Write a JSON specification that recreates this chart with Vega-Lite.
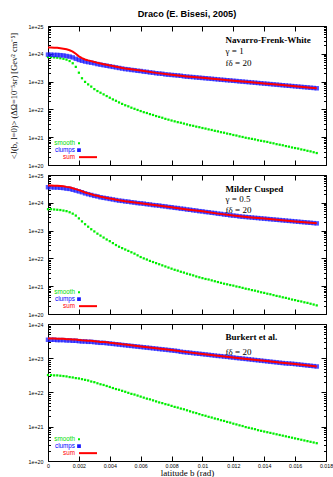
{
"$schema": "https://vega.github.io/schema/vega-lite/v6.json",
"background": "white",
"padding": {"left": 8, "top": 9, "right": 0, "bottom": 0},
"config": {
  "font": "Liberation Sans",
  "view": {"stroke": "black", "strokeWidth": 1},
  "axis": {"domain": false, "grid": false, "tickColor": "black", "tickWidth": 1, "labelColor": "black", "labelFont": "Liberation Sans", "labelFontSize": 5.3, "titleFont": "Liberation Serif", "titleFontWeight": "normal", "titleFontSize": 9, "titleColor": "black", "labelFlush": false, "labelOverlap": false}
},
"bounds": "flush",
"spacing": 10,
"resolve": {"scale": {"x": "independent", "y": "independent", "color": "independent"}, "legend": {"color": "independent"}},
"datasets": {
"nfw": [
{"b":0,"smooth":7.59e23,"clumps":9.33e23,"sum":1.69e24},
{"b":0.0002,"smooth":7.59e23,"clumps":9.33e23,"sum":1.69e24},
{"b":0.0004,"smooth":7.41e23,"clumps":9.12e23,"sum":1.65e24},
{"b":0.0006,"smooth":7.24e23,"clumps":9.12e23,"sum":1.64e24},
{"b":0.0008,"smooth":6.92e23,"clumps":8.91e23,"sum":1.58e24},
{"b":0.001,"smooth":6.61e23,"clumps":8.71e23,"sum":1.53e24},
{"b":0.0012,"smooth":6.17e23,"clumps":8.32e23,"sum":1.45e24},
{"b":0.0014,"smooth":5.50e23,"clumps":7.94e23,"sum":1.34e24},
{"b":0.0016,"smooth":4.57e23,"clumps":7.41e23,"sum":1.20e24},
{"b":0.0018,"smooth":3.39e23,"clumps":6.61e23,"sum":1.00e24},
{"b":0.002,"smooth":2.09e23,"clumps":6.03e23,"sum":8.12e23},
{"b":0.0022,"smooth":1.32e23,"clumps":5.62e23,"sum":6.94e23},
{"b":0.0024,"smooth":9.77e22,"clumps":5.25e23,"sum":6.23e23},
{"b":0.0026,"smooth":7.94e22,"clumps":5.01e23,"sum":5.80e23},
{"b":0.0028,"smooth":6.61e22,"clumps":4.79e23,"sum":5.45e23},
{"b":0.003,"smooth":5.37e22,"clumps":4.57e23,"sum":5.11e23},
{"b":0.0032,"smooth":4.57e22,"clumps":4.27e23,"sum":4.73e23},
{"b":0.0034,"smooth":3.98e22,"clumps":4.07e23,"sum":4.47e23},
{"b":0.0036,"smooth":3.47e22,"clumps":3.89e23,"sum":4.24e23},
{"b":0.0038,"smooth":3.02e22,"clumps":3.72e23,"sum":4.02e23},
{"b":0.004,"smooth":2.63e22,"clumps":3.55e23,"sum":3.81e23},
{"b":0.0042,"smooth":2.29e22,"clumps":3.39e23,"sum":3.62e23},
{"b":0.0044,"smooth":2.04e22,"clumps":3.24e23,"sum":3.44e23},
{"b":0.0046,"smooth":1.78e22,"clumps":3.09e23,"sum":3.27e23},
{"b":0.0048,"smooth":1.58e22,"clumps":2.95e23,"sum":3.11e23},
{"b":0.005,"smooth":1.41e22,"clumps":2.82e23,"sum":2.96e23},
{"b":0.0052,"smooth":1.29e22,"clumps":2.75e23},
{"b":0.0054,"smooth":1.15e22,"clumps":2.63e23},
{"b":0.0056,"smooth":1.05e22,"clumps":2.57e23},
{"b":0.0058,"smooth":9.55e21,"clumps":2.45e23},
{"b":0.006,"smooth":8.71e21,"clumps":2.40e23,"sum":2.49e23},
{"b":0.0062,"smooth":7.94e21,"clumps":2.29e23},
{"b":0.0064,"smooth":7.41e21,"clumps":2.24e23},
{"b":0.0066,"smooth":6.76e21,"clumps":2.14e23},
{"b":0.0068,"smooth":6.31e21,"clumps":2.09e23},
{"b":0.007,"smooth":5.75e21,"clumps":2.00e23,"sum":2.06e23},
{"b":0.0072,"smooth":5.37e21,"clumps":1.95e23},
{"b":0.0074,"smooth":5.01e21,"clumps":1.91e23},
{"b":0.0076,"smooth":4.57e21,"clumps":1.82e23},
{"b":0.0078,"smooth":4.27e21,"clumps":1.78e23},
{"b":0.008,"smooth":3.98e21,"clumps":1.74e23,"sum":1.78e23},
{"b":0.0082,"smooth":3.72e21,"clumps":1.70e23},
{"b":0.0084,"smooth":3.47e21,"clumps":1.66e23},
{"b":0.0086,"smooth":3.31e21,"clumps":1.62e23},
{"b":0.0088,"smooth":3.09e21,"clumps":1.55e23},
{"b":0.009,"smooth":2.88e21,"clumps":1.51e23,"sum":1.54e23},
{"b":0.0092,"smooth":2.69e21,"clumps":1.48e23},
{"b":0.0094,"smooth":2.57e21,"clumps":1.45e23},
{"b":0.0096,"smooth":2.40e21,"clumps":1.41e23},
{"b":0.0098,"smooth":2.29e21,"clumps":1.38e23},
{"b":0.01,"smooth":2.14e21,"clumps":1.35e23,"sum":1.37e23},
{"b":0.0102,"smooth":2.04e21,"clumps":1.32e23},
{"b":0.0104,"smooth":1.91e21,"clumps":1.29e23},
{"b":0.0106,"smooth":1.82e21,"clumps":1.26e23},
{"b":0.0108,"smooth":1.70e21,"clumps":1.23e23},
{"b":0.011,"smooth":1.62e21,"clumps":1.20e23,"sum":1.22e23},
{"b":0.0112,"smooth":1.51e21,"clumps":1.17e23},
{"b":0.0114,"smooth":1.45e21,"clumps":1.15e23},
{"b":0.0116,"smooth":1.35e21,"clumps":1.12e23},
{"b":0.0118,"smooth":1.29e21,"clumps":1.10e23},
{"b":0.012,"smooth":1.20e21,"clumps":1.07e23,"sum":1.08e23},
{"b":0.0122,"smooth":1.15e21,"clumps":1.05e23},
{"b":0.0124,"smooth":1.07e21,"clumps":1.02e23},
{"b":0.0126,"smooth":1.02e21,"clumps":1.00e23},
{"b":0.0128,"smooth":9.55e20,"clumps":9.77e22},
{"b":0.013,"smooth":9.12e20,"clumps":9.55e22,"sum":9.64e22},
{"b":0.0132,"smooth":8.71e20,"clumps":9.33e22},
{"b":0.0134,"smooth":8.32e20,"clumps":9.12e22},
{"b":0.0136,"smooth":7.76e20,"clumps":8.91e22},
{"b":0.0138,"smooth":7.41e20,"clumps":8.71e22},
{"b":0.014,"smooth":7.08e20,"clumps":8.51e22,"sum":8.58e22},
{"b":0.0142,"smooth":6.76e20,"clumps":8.32e22},
{"b":0.0144,"smooth":6.31e20,"clumps":8.13e22},
{"b":0.0146,"smooth":6.03e20,"clumps":7.94e22},
{"b":0.0148,"smooth":5.62e20,"clumps":7.76e22},
{"b":0.015,"smooth":5.37e20,"clumps":7.59e22,"sum":7.64e22},
{"b":0.0152,"smooth":5.13e20,"clumps":7.41e22},
{"b":0.0154,"smooth":4.79e20,"clumps":7.24e22},
{"b":0.0156,"smooth":4.57e20,"clumps":7.08e22},
{"b":0.0158,"smooth":4.27e20,"clumps":6.92e22},
{"b":0.016,"smooth":4.07e20,"clumps":6.76e22,"sum":6.80e22},
{"b":0.0162,"smooth":3.89e20,"clumps":6.61e22},
{"b":0.0164,"smooth":3.63e20,"clumps":6.46e22},
{"b":0.0166,"smooth":3.47e20,"clumps":6.31e22},
{"b":0.0168,"smooth":3.24e20,"clumps":6.17e22},
{"b":0.017,"smooth":3.09e20,"clumps":6.03e22,"sum":6.06e22},
{"b":0.0172,"smooth":2.88e20,"clumps":5.89e22},
{"b":0.0174,"smooth":2.69e20,"clumps":5.75e22,"sum":5.78e22}
],
"mc": [
{"b":0,"smooth":5.89e23,"clumps":3.63e24,"sum":4.22e24},
{"b":0.0002,"smooth":5.89e23,"clumps":3.63e24,"sum":4.22e24},
{"b":0.0004,"smooth":5.75e23,"clumps":3.55e24,"sum":4.13e24},
{"b":0.0006,"smooth":5.62e23,"clumps":3.55e24,"sum":4.11e24},
{"b":0.0008,"smooth":5.50e23,"clumps":3.47e24,"sum":4.02e24},
{"b":0.001,"smooth":5.25e23,"clumps":3.39e24,"sum":3.92e24},
{"b":0.0012,"smooth":5.01e23,"clumps":3.24e24,"sum":3.74e24},
{"b":0.0014,"smooth":4.57e23,"clumps":3.16e24,"sum":3.62e24},
{"b":0.0016,"smooth":4.07e23,"clumps":2.95e24,"sum":3.36e24},
{"b":0.0018,"smooth":3.47e23,"clumps":2.75e24,"sum":3.10e24},
{"b":0.002,"smooth":2.75e23,"clumps":2.57e24,"sum":2.85e24},
{"b":0.0022,"smooth":2.14e23,"clumps":2.40e24,"sum":2.61e24},
{"b":0.0024,"smooth":1.70e23,"clumps":2.19e24,"sum":2.36e24},
{"b":0.0026,"smooth":1.38e23,"clumps":2.04e24,"sum":2.18e24},
{"b":0.0028,"smooth":1.12e23,"clumps":1.91e24,"sum":2.02e24},
{"b":0.003,"smooth":9.33e22,"clumps":1.78e24,"sum":1.87e24},
{"b":0.0032,"smooth":7.76e22,"clumps":1.70e24,"sum":1.78e24},
{"b":0.0034,"smooth":6.61e22,"clumps":1.58e24,"sum":1.65e24},
{"b":0.0036,"smooth":5.62e22,"clumps":1.51e24,"sum":1.57e24},
{"b":0.0038,"smooth":4.79e22,"clumps":1.45e24,"sum":1.50e24},
{"b":0.004,"smooth":4.17e22,"clumps":1.38e24,"sum":1.42e24},
{"b":0.0042,"smooth":3.55e22,"clumps":1.32e24,"sum":1.36e24},
{"b":0.0044,"smooth":3.02e22,"clumps":1.26e24,"sum":1.29e24},
{"b":0.0046,"smooth":2.63e22,"clumps":1.20e24,"sum":1.23e24},
{"b":0.0048,"smooth":2.34e22,"clumps":1.17e24,"sum":1.19e24},
{"b":0.005,"smooth":2.09e22,"clumps":1.12e24,"sum":1.14e24},
{"b":0.0052,"smooth":1.86e22,"clumps":1.10e24},
{"b":0.0054,"smooth":1.66e22,"clumps":1.05e24},
{"b":0.0056,"smooth":1.48e22,"clumps":1.02e24},
{"b":0.0058,"smooth":1.29e22,"clumps":9.77e23},
{"b":0.006,"smooth":1.12e22,"clumps":9.55e23,"sum":9.66e23},
{"b":0.0062,"smooth":1.00e22,"clumps":9.33e23},
{"b":0.0064,"smooth":9.12e21,"clumps":8.91e23},
{"b":0.0066,"smooth":8.13e21,"clumps":8.71e23},
{"b":0.0068,"smooth":7.41e21,"clumps":8.32e23},
{"b":0.007,"smooth":6.76e21,"clumps":8.13e23,"sum":8.20e23},
{"b":0.0072,"smooth":6.17e21,"clumps":7.94e23},
{"b":0.0074,"smooth":5.62e21,"clumps":7.59e23},
{"b":0.0076,"smooth":5.13e21,"clumps":7.41e23},
{"b":0.0078,"smooth":4.68e21,"clumps":7.08e23},
{"b":0.008,"smooth":4.27e21,"clumps":6.92e23,"sum":6.96e23},
{"b":0.0082,"smooth":3.89e21,"clumps":6.61e23},
{"b":0.0084,"smooth":3.63e21,"clumps":6.46e23},
{"b":0.0086,"smooth":3.31e21,"clumps":6.17e23},
{"b":0.0088,"smooth":3.09e21,"clumps":6.03e23},
{"b":0.009,"smooth":2.82e21,"clumps":5.75e23,"sum":5.78e23},
{"b":0.0092,"smooth":2.63e21,"clumps":5.62e23},
{"b":0.0094,"smooth":2.45e21,"clumps":5.37e23},
{"b":0.0096,"smooth":2.24e21,"clumps":5.25e23},
{"b":0.0098,"smooth":2.09e21,"clumps":5.01e23},
{"b":0.01,"smooth":1.95e21,"clumps":4.90e23,"sum":4.92e23},
{"b":0.0102,"smooth":1.82e21,"clumps":4.68e23},
{"b":0.0104,"smooth":1.74e21,"clumps":4.57e23},
{"b":0.0106,"smooth":1.62e21,"clumps":4.37e23},
{"b":0.0108,"smooth":1.51e21,"clumps":4.27e23},
{"b":0.011,"smooth":1.41e21,"clumps":4.07e23,"sum":4.08e23},
{"b":0.0112,"smooth":1.32e21,"clumps":3.98e23},
{"b":0.0114,"smooth":1.23e21,"clumps":3.80e23},
{"b":0.0116,"smooth":1.17e21,"clumps":3.72e23},
{"b":0.0118,"smooth":1.10e21,"clumps":3.55e23},
{"b":0.012,"smooth":1.05e21,"clumps":3.47e23,"sum":3.48e23},
{"b":0.0122,"smooth":9.77e20,"clumps":3.39e23},
{"b":0.0124,"smooth":9.33e20,"clumps":3.24e23},
{"b":0.0126,"smooth":8.71e20,"clumps":3.16e23},
{"b":0.0128,"smooth":8.13e20,"clumps":3.09e23},
{"b":0.013,"smooth":7.76e20,"clumps":3.02e23,"sum":3.03e23},
{"b":0.0132,"smooth":7.24e20,"clumps":2.95e23},
{"b":0.0134,"smooth":6.92e20,"clumps":2.88e23},
{"b":0.0136,"smooth":6.46e20,"clumps":2.82e23},
{"b":0.0138,"smooth":6.03e20,"clumps":2.75e23},
{"b":0.014,"smooth":5.75e20,"clumps":2.69e23,"sum":2.70e23},
{"b":0.0142,"smooth":5.37e20,"clumps":2.63e23},
{"b":0.0144,"smooth":5.13e20,"clumps":2.57e23},
{"b":0.0146,"smooth":4.79e20,"clumps":2.51e23},
{"b":0.0148,"smooth":4.47e20,"clumps":2.45e23},
{"b":0.015,"smooth":4.27e20,"clumps":2.40e23,"sum":2.40e23},
{"b":0.0152,"smooth":3.98e20,"clumps":2.34e23},
{"b":0.0154,"smooth":3.80e20,"clumps":2.29e23},
{"b":0.0156,"smooth":3.55e20,"clumps":2.24e23},
{"b":0.0158,"smooth":3.31e20,"clumps":2.19e23},
{"b":0.016,"smooth":3.16e20,"clumps":2.14e23,"sum":2.14e23},
{"b":0.0162,"smooth":2.95e20,"clumps":2.09e23},
{"b":0.0164,"smooth":2.82e20,"clumps":2.04e23},
{"b":0.0166,"smooth":2.63e20,"clumps":2.00e23},
{"b":0.0168,"smooth":2.51e20,"clumps":1.95e23},
{"b":0.017,"smooth":2.34e20,"clumps":1.91e23,"sum":1.91e23},
{"b":0.0172,"smooth":2.19e20,"clumps":1.86e23},
{"b":0.0174,"smooth":2.04e20,"clumps":1.82e23,"sum":1.82e23}
],
"bk": [
{"b":0,"smooth":3.24e22,"clumps":3.47e23,"sum":3.79e23},
{"b":0.0002,"smooth":3.24e22,"clumps":3.47e23,"sum":3.79e23},
{"b":0.0004,"smooth":3.16e22,"clumps":3.47e23,"sum":3.79e23},
{"b":0.0006,"smooth":3.16e22,"clumps":3.39e23,"sum":3.71e23},
{"b":0.0008,"smooth":3.09e22,"clumps":3.39e23,"sum":3.70e23},
{"b":0.001,"smooth":3.02e22,"clumps":3.39e23,"sum":3.69e23},
{"b":0.0012,"smooth":2.95e22,"clumps":3.31e23,"sum":3.61e23},
{"b":0.0014,"smooth":2.82e22,"clumps":3.31e23,"sum":3.59e23},
{"b":0.0016,"smooth":2.75e22,"clumps":3.24e23,"sum":3.52e23},
{"b":0.0018,"smooth":2.63e22,"clumps":3.24e23,"sum":3.50e23},
{"b":0.002,"smooth":2.57e22,"clumps":3.16e23,"sum":3.42e23},
{"b":0.0022,"smooth":2.45e22,"clumps":3.09e23,"sum":3.34e23},
{"b":0.0024,"smooth":2.34e22,"clumps":3.09e23,"sum":3.32e23},
{"b":0.0026,"smooth":2.24e22,"clumps":3.02e23,"sum":3.24e23},
{"b":0.0028,"smooth":2.09e22,"clumps":3.02e23,"sum":3.23e23},
{"b":0.003,"smooth":2.00e22,"clumps":2.95e23,"sum":3.15e23},
{"b":0.0032,"smooth":1.86e22,"clumps":2.88e23,"sum":3.07e23},
{"b":0.0034,"smooth":1.74e22,"clumps":2.82e23,"sum":2.99e23},
{"b":0.0036,"smooth":1.66e22,"clumps":2.82e23,"sum":2.99e23},
{"b":0.0038,"smooth":1.55e22,"clumps":2.75e23,"sum":2.91e23},
{"b":0.004,"smooth":1.45e22,"clumps":2.69e23,"sum":2.83e23},
{"b":0.0042,"smooth":1.35e22,"clumps":2.63e23,"sum":2.77e23},
{"b":0.0044,"smooth":1.26e22,"clumps":2.57e23,"sum":2.70e23},
{"b":0.0046,"smooth":1.20e22,"clumps":2.51e23,"sum":2.63e23},
{"b":0.0048,"smooth":1.12e22,"clumps":2.45e23,"sum":2.56e23},
{"b":0.005,"smooth":1.05e22,"clumps":2.40e23,"sum":2.51e23},
{"b":0.0052,"smooth":9.77e21,"clumps":2.34e23},
{"b":0.0054,"smooth":9.12e21,"clumps":2.29e23},
{"b":0.0056,"smooth":8.71e21,"clumps":2.24e23},
{"b":0.0058,"smooth":8.13e21,"clumps":2.19e23},
{"b":0.006,"smooth":7.59e21,"clumps":2.14e23,"sum":2.22e23},
{"b":0.0062,"smooth":7.08e21,"clumps":2.09e23},
{"b":0.0064,"smooth":6.61e21,"clumps":2.04e23},
{"b":0.0066,"smooth":6.31e21,"clumps":2.00e23},
{"b":0.0068,"smooth":5.89e21,"clumps":1.95e23},
{"b":0.007,"smooth":5.50e21,"clumps":1.91e23,"sum":1.97e23},
{"b":0.0072,"smooth":5.13e21,"clumps":1.86e23},
{"b":0.0074,"smooth":4.90e21,"clumps":1.82e23},
{"b":0.0076,"smooth":4.57e21,"clumps":1.78e23},
{"b":0.0078,"smooth":4.37e21,"clumps":1.74e23},
{"b":0.008,"smooth":4.07e21,"clumps":1.70e23,"sum":1.74e23},
{"b":0.0082,"smooth":3.80e21,"clumps":1.66e23},
{"b":0.0084,"smooth":3.63e21,"clumps":1.62e23},
{"b":0.0086,"smooth":3.39e21,"clumps":1.55e23},
{"b":0.0088,"smooth":3.24e21,"clumps":1.51e23},
{"b":0.009,"smooth":3.02e21,"clumps":1.48e23,"sum":1.51e23},
{"b":0.0092,"smooth":2.82e21,"clumps":1.45e23},
{"b":0.0094,"smooth":2.63e21,"clumps":1.41e23},
{"b":0.0096,"smooth":2.51e21,"clumps":1.38e23},
{"b":0.0098,"smooth":2.34e21,"clumps":1.35e23},
{"b":0.01,"smooth":2.19e21,"clumps":1.32e23,"sum":1.34e23},
{"b":0.0102,"smooth":2.09e21,"clumps":1.29e23},
{"b":0.0104,"smooth":1.95e21,"clumps":1.26e23},
{"b":0.0106,"smooth":1.86e21,"clumps":1.23e23},
{"b":0.0108,"smooth":1.74e21,"clumps":1.20e23},
{"b":0.011,"smooth":1.66e21,"clumps":1.17e23,"sum":1.19e23},
{"b":0.0112,"smooth":1.55e21,"clumps":1.15e23},
{"b":0.0114,"smooth":1.48e21,"clumps":1.12e23},
{"b":0.0116,"smooth":1.38e21,"clumps":1.10e23},
{"b":0.0118,"smooth":1.32e21,"clumps":1.07e23},
{"b":0.012,"smooth":1.23e21,"clumps":1.05e23,"sum":1.06e23},
{"b":0.0122,"smooth":1.17e21,"clumps":1.02e23},
{"b":0.0124,"smooth":1.10e21,"clumps":1.00e23},
{"b":0.0126,"smooth":1.05e21,"clumps":9.77e22},
{"b":0.0128,"smooth":9.77e20,"clumps":9.55e22},
{"b":0.013,"smooth":9.33e20,"clumps":9.33e22,"sum":9.42e22},
{"b":0.0132,"smooth":8.91e20,"clumps":9.12e22},
{"b":0.0134,"smooth":8.51e20,"clumps":8.91e22},
{"b":0.0136,"smooth":7.94e20,"clumps":8.71e22},
{"b":0.0138,"smooth":7.59e20,"clumps":8.51e22},
{"b":0.014,"smooth":7.24e20,"clumps":8.32e22,"sum":8.39e22},
{"b":0.0142,"smooth":6.92e20,"clumps":8.13e22},
{"b":0.0144,"smooth":6.61e20,"clumps":7.94e22},
{"b":0.0146,"smooth":6.31e20,"clumps":7.76e22},
{"b":0.0148,"smooth":6.03e20,"clumps":7.59e22},
{"b":0.015,"smooth":5.75e20,"clumps":7.41e22,"sum":7.47e22},
{"b":0.0152,"smooth":5.50e20,"clumps":7.24e22},
{"b":0.0154,"smooth":5.25e20,"clumps":7.08e22},
{"b":0.0156,"smooth":5.01e20,"clumps":7.00e22},
{"b":0.0158,"smooth":4.79e20,"clumps":6.92e22},
{"b":0.016,"smooth":4.57e20,"clumps":6.76e22,"sum":6.81e22},
{"b":0.0162,"smooth":4.37e20,"clumps":6.61e22},
{"b":0.0164,"smooth":4.17e20,"clumps":6.46e22},
{"b":0.0166,"smooth":3.98e20,"clumps":6.31e22},
{"b":0.0168,"smooth":3.80e20,"clumps":6.17e22},
{"b":0.017,"smooth":3.63e20,"clumps":6.03e22,"sum":6.07e22},
{"b":0.0172,"smooth":3.47e20,"clumps":5.89e22},
{"b":0.0174,"smooth":3.31e20,"clumps":5.75e22,"sum":5.78e22}
]
},
"vconcat": [
{
 "width": 278, "height": 139,
 "title": {"text": "Draco (E. Bisesi, 2005)", "font": "Liberation Sans", "fontSize": 9.2, "fontWeight": "bold", "color": "black", "anchor": "middle", "frame": "group", "offset": 5},
 "data": {"name": "nfw"},
 "resolve": {"axis": {"x": "independent", "y": "independent"}},
 "layer": [
  {"mark": {"type": "point", "shape": "square", "filled": true, "size": 5, "opacity": 1},
   "encoding": {
    "x": {"field": "b", "type": "quantitative", "scale": {"domain": [0, 0.018], "nice": false, "zero": false}, "axis": {"orient": "bottom", "values": [0,0.002,0.004,0.006,0.008,0.01,0.012,0.014,0.016,0.018], "tickSize": -5, "labels": false, "title": null}},
    "y": {"field": "smooth", "type": "quantitative", "scale": {"type": "log", "domain": [1e20, 1e25], "nice": false}, "axis": {"orient": "left", "values": [1e20,2e20,3e20,4e20,5e20,6e20,7e20,8e20,9e20,1e21,2e21,3e21,4e21,5e21,6e21,7e21,8e21,9e21,1e22,2e22,3e22,4e22,5e22,6e22,7e22,8e22,9e22,1e23,2e23,3e23,4e23,5e23,6e23,7e23,8e23,9e23,1e24,2e24,3e24,4e24,5e24,6e24,7e24,8e24,9e24,1e25], "labelExpr": "abs(log(datum.value)/LN10-round(log(datum.value)/LN10))<0.01 ? '1e+'+round(log(datum.value)/LN10) : ''", "tickSize": {"condition": {"test": "abs(log(datum.value)/LN10-round(log(datum.value)/LN10))<0.01", "value": -5}, "value": -2.5}, "labelPadding": 10, "title": "<J(b, l=0)> (ΔΩ=10⁻⁵sr) [Gev² cm⁻⁵]", "titleFontSize": 8.5, "titlePadding": 10}},
    "color": {"datum": "smooth", "type": "nominal", "scale": {"domain": ["smooth","clumps","sum"], "range": ["#00ee00","#1a1aff","#ff0000"]},
      "legend": {"orient": "bottom-left", "offset": 3, "title": null, "padding": 0, "rowPadding": -2.4, "labelFont": "Liberation Sans", "labelFontSize": 6.3, "labelAlign": "right", "symbolSize": 16,
        "encode": {
          "labels": {"update": {"x": {"value": 24}, "align": {"value": "right"}, "fill": {"signal": "datum.value==='smooth'?'#00dd00':datum.value==='clumps'?'#0000ff':'#ff0000'"}}},
          "symbols": {"update": {"x": {"signal": "datum.value==='sum'?37:28"}, "shape": {"signal": "datum.value==='sum'?'stroke':'square'"}, "size": {"signal": "datum.value==='sum'?324:datum.value==='clumps'?14:4"}, "fill": {"signal": "datum.value==='smooth'?'#00ee00':datum.value==='clumps'?'#1a1aff':'transparent'"}, "stroke": {"signal": "datum.value==='sum'?'#ff0000':'transparent'"}, "strokeWidth": {"signal": "datum.value==='sum'?2:0"}, "opacity": {"value": 1}}}
        }}}
   }},
  {"mark": {"type": "point", "shape": "square", "filled": true, "size": 20, "opacity": 0.75},
   "encoding": {
    "x": {"field": "b", "type": "quantitative", "scale": {"domain": [0, 0.018], "nice": false, "zero": false}, "axis": {"orient": "top", "values": [0,0.002,0.004,0.006,0.008,0.01,0.012,0.014,0.016,0.018], "tickSize": -5, "labels": false, "title": null}},
    "y": {"field": "clumps", "type": "quantitative", "scale": {"type": "log", "domain": [1e20, 1e25], "nice": false}, "axis": {"orient": "right", "values": [1e20,2e20,3e20,4e20,5e20,6e20,7e20,8e20,9e20,1e21,2e21,3e21,4e21,5e21,6e21,7e21,8e21,9e21,1e22,2e22,3e22,4e22,5e22,6e22,7e22,8e22,9e22,1e23,2e23,3e23,4e23,5e23,6e23,7e23,8e23,9e23,1e24,2e24,3e24,4e24,5e24,6e24,7e24,8e24,9e24,1e25], "labels": false, "tickSize": {"condition": {"test": "abs(log(datum.value)/LN10-round(log(datum.value)/LN10))<0.01", "value": -5}, "value": -2.5}, "title": null}},
    "color": {"datum": "clumps", "type": "nominal", "scale": {"domain": ["smooth","clumps","sum"], "range": ["#00ee00","#1a1aff","#ff0000"]},
      "legend": {"orient": "bottom-left", "offset": 3, "title": null, "padding": 0, "rowPadding": -2.4, "labelFont": "Liberation Sans", "labelFontSize": 6.3, "labelAlign": "right", "symbolSize": 16,
        "encode": {
          "labels": {"update": {"x": {"value": 24}, "align": {"value": "right"}, "fill": {"signal": "datum.value==='smooth'?'#00dd00':datum.value==='clumps'?'#0000ff':'#ff0000'"}}},
          "symbols": {"update": {"x": {"signal": "datum.value==='sum'?37:28"}, "shape": {"signal": "datum.value==='sum'?'stroke':'square'"}, "size": {"signal": "datum.value==='sum'?324:datum.value==='clumps'?14:4"}, "fill": {"signal": "datum.value==='smooth'?'#00ee00':datum.value==='clumps'?'#1a1aff':'transparent'"}, "stroke": {"signal": "datum.value==='sum'?'#ff0000':'transparent'"}, "strokeWidth": {"signal": "datum.value==='sum'?2:0"}, "opacity": {"value": 1}}}
        }}}
   }},
  {"mark": {"type": "line", "strokeWidth": 2, "invalid": "filter"},
   "encoding": {
    "x": {"field": "b", "type": "quantitative", "scale": {"domain": [0, 0.018], "nice": false, "zero": false}, "axis": null},
    "y": {"field": "sum", "type": "quantitative", "scale": {"type": "log", "domain": [1e20, 1e25], "nice": false}, "axis": null},
    "color": {"datum": "sum", "type": "nominal", "scale": {"domain": ["smooth","clumps","sum"], "range": ["#00ee00","#1a1aff","#ff0000"]},
      "legend": {"orient": "bottom-left", "offset": 3, "title": null, "padding": 0, "rowPadding": -2.4, "labelFont": "Liberation Sans", "labelFontSize": 6.3, "labelAlign": "right", "symbolSize": 16,
        "encode": {
          "labels": {"update": {"x": {"value": 24}, "align": {"value": "right"}, "fill": {"signal": "datum.value==='smooth'?'#00dd00':datum.value==='clumps'?'#0000ff':'#ff0000'"}}},
          "symbols": {"update": {"x": {"signal": "datum.value==='sum'?37:28"}, "shape": {"signal": "datum.value==='sum'?'stroke':'square'"}, "size": {"signal": "datum.value==='sum'?324:datum.value==='clumps'?14:4"}, "fill": {"signal": "datum.value==='smooth'?'#00ee00':datum.value==='clumps'?'#1a1aff':'transparent'"}, "stroke": {"signal": "datum.value==='sum'?'#ff0000':'transparent'"}, "strokeWidth": {"signal": "datum.value==='sum'?2:0"}, "opacity": {"value": 1}}}
        }}}
   }},
  {"data": {"values": [{}]}, "mark": {"type": "text", "align": "left", "baseline": "middle", "font": "Liberation Serif", "fontSize": 9, "fontWeight": "bold", "color": "black"},
   "encoding": {"x": {"datum": 0.0115, "type": "quantitative", "axis": null}, "y": {"datum": 3.1e24, "type": "quantitative", "scale": {"type": "log", "domain": [1e20, 1e25], "nice": false}, "axis": null}, "text": {"value": "Navarro-Frenk-White"}}},
  {"data": {"values": [{}]}, "mark": {"type": "text", "align": "left", "baseline": "middle", "font": "Liberation Serif", "fontSize": 9, "color": "black"},
   "encoding": {"x": {"datum": 0.0115, "type": "quantitative", "axis": null}, "y": {"datum": 1.23e24, "type": "quantitative", "scale": {"type": "log", "domain": [1e20, 1e25], "nice": false}, "axis": null}, "text": {"value": "γ = 1"}}},
  {"data": {"values": [{}]}, "mark": {"type": "text", "align": "left", "baseline": "middle", "font": "Liberation Serif", "fontSize": 9, "color": "black"},
   "encoding": {"x": {"datum": 0.0115, "type": "quantitative", "axis": null}, "y": {"datum": 4.7e23, "type": "quantitative", "scale": {"type": "log", "domain": [1e20, 1e25], "nice": false}, "axis": null}, "text": {"value": "fδ = 20"}}}
 ]
},
{
 "width": 278, "height": 139,
 "data": {"name": "mc"},
 "resolve": {"axis": {"x": "independent", "y": "independent"}},
 "layer": [
  {"mark": {"type": "point", "shape": "square", "filled": true, "size": 5, "opacity": 1},
   "encoding": {
    "x": {"field": "b", "type": "quantitative", "scale": {"domain": [0, 0.018], "nice": false, "zero": false}, "axis": {"orient": "bottom", "values": [0,0.002,0.004,0.006,0.008,0.01,0.012,0.014,0.016,0.018], "tickSize": -5, "labels": false, "title": null}},
    "y": {"field": "smooth", "type": "quantitative", "scale": {"type": "log", "domain": [1e20, 1e25], "nice": false}, "axis": {"orient": "left", "values": [1e20,2e20,3e20,4e20,5e20,6e20,7e20,8e20,9e20,1e21,2e21,3e21,4e21,5e21,6e21,7e21,8e21,9e21,1e22,2e22,3e22,4e22,5e22,6e22,7e22,8e22,9e22,1e23,2e23,3e23,4e23,5e23,6e23,7e23,8e23,9e23,1e24,2e24,3e24,4e24,5e24,6e24,7e24,8e24,9e24,1e25], "labelExpr": "abs(log(datum.value)/LN10-round(log(datum.value)/LN10))<0.01 ? '1e+'+round(log(datum.value)/LN10) : ''", "tickSize": {"condition": {"test": "abs(log(datum.value)/LN10-round(log(datum.value)/LN10))<0.01", "value": -5}, "value": -2.5}, "labelPadding": 10, "title": null}},
    "color": {"datum": "smooth", "type": "nominal", "scale": {"domain": ["smooth","clumps","sum"], "range": ["#00ee00","#1a1aff","#ff0000"]},
      "legend": {"orient": "bottom-left", "offset": 3, "title": null, "padding": 0, "rowPadding": -2.4, "labelFont": "Liberation Sans", "labelFontSize": 6.3, "labelAlign": "right", "symbolSize": 16,
        "encode": {
          "labels": {"update": {"x": {"value": 24}, "align": {"value": "right"}, "fill": {"signal": "datum.value==='smooth'?'#00dd00':datum.value==='clumps'?'#0000ff':'#ff0000'"}}},
          "symbols": {"update": {"x": {"signal": "datum.value==='sum'?37:28"}, "shape": {"signal": "datum.value==='sum'?'stroke':'square'"}, "size": {"signal": "datum.value==='sum'?324:datum.value==='clumps'?14:4"}, "fill": {"signal": "datum.value==='smooth'?'#00ee00':datum.value==='clumps'?'#1a1aff':'transparent'"}, "stroke": {"signal": "datum.value==='sum'?'#ff0000':'transparent'"}, "strokeWidth": {"signal": "datum.value==='sum'?2:0"}, "opacity": {"value": 1}}}
        }}}
   }},
  {"mark": {"type": "point", "shape": "square", "filled": true, "size": 20, "opacity": 0.75},
   "encoding": {
    "x": {"field": "b", "type": "quantitative", "scale": {"domain": [0, 0.018], "nice": false, "zero": false}, "axis": {"orient": "top", "values": [0,0.002,0.004,0.006,0.008,0.01,0.012,0.014,0.016,0.018], "tickSize": -5, "labels": false, "title": null}},
    "y": {"field": "clumps", "type": "quantitative", "scale": {"type": "log", "domain": [1e20, 1e25], "nice": false}, "axis": {"orient": "right", "values": [1e20,2e20,3e20,4e20,5e20,6e20,7e20,8e20,9e20,1e21,2e21,3e21,4e21,5e21,6e21,7e21,8e21,9e21,1e22,2e22,3e22,4e22,5e22,6e22,7e22,8e22,9e22,1e23,2e23,3e23,4e23,5e23,6e23,7e23,8e23,9e23,1e24,2e24,3e24,4e24,5e24,6e24,7e24,8e24,9e24,1e25], "labels": false, "tickSize": {"condition": {"test": "abs(log(datum.value)/LN10-round(log(datum.value)/LN10))<0.01", "value": -5}, "value": -2.5}, "title": null}},
    "color": {"datum": "clumps", "type": "nominal", "scale": {"domain": ["smooth","clumps","sum"], "range": ["#00ee00","#1a1aff","#ff0000"]},
      "legend": {"orient": "bottom-left", "offset": 3, "title": null, "padding": 0, "rowPadding": -2.4, "labelFont": "Liberation Sans", "labelFontSize": 6.3, "labelAlign": "right", "symbolSize": 16,
        "encode": {
          "labels": {"update": {"x": {"value": 24}, "align": {"value": "right"}, "fill": {"signal": "datum.value==='smooth'?'#00dd00':datum.value==='clumps'?'#0000ff':'#ff0000'"}}},
          "symbols": {"update": {"x": {"signal": "datum.value==='sum'?37:28"}, "shape": {"signal": "datum.value==='sum'?'stroke':'square'"}, "size": {"signal": "datum.value==='sum'?324:datum.value==='clumps'?14:4"}, "fill": {"signal": "datum.value==='smooth'?'#00ee00':datum.value==='clumps'?'#1a1aff':'transparent'"}, "stroke": {"signal": "datum.value==='sum'?'#ff0000':'transparent'"}, "strokeWidth": {"signal": "datum.value==='sum'?2:0"}, "opacity": {"value": 1}}}
        }}}
   }},
  {"mark": {"type": "line", "strokeWidth": 2, "invalid": "filter"},
   "encoding": {
    "x": {"field": "b", "type": "quantitative", "scale": {"domain": [0, 0.018], "nice": false, "zero": false}, "axis": null},
    "y": {"field": "sum", "type": "quantitative", "scale": {"type": "log", "domain": [1e20, 1e25], "nice": false}, "axis": null},
    "color": {"datum": "sum", "type": "nominal", "scale": {"domain": ["smooth","clumps","sum"], "range": ["#00ee00","#1a1aff","#ff0000"]},
      "legend": {"orient": "bottom-left", "offset": 3, "title": null, "padding": 0, "rowPadding": -2.4, "labelFont": "Liberation Sans", "labelFontSize": 6.3, "labelAlign": "right", "symbolSize": 16,
        "encode": {
          "labels": {"update": {"x": {"value": 24}, "align": {"value": "right"}, "fill": {"signal": "datum.value==='smooth'?'#00dd00':datum.value==='clumps'?'#0000ff':'#ff0000'"}}},
          "symbols": {"update": {"x": {"signal": "datum.value==='sum'?37:28"}, "shape": {"signal": "datum.value==='sum'?'stroke':'square'"}, "size": {"signal": "datum.value==='sum'?324:datum.value==='clumps'?14:4"}, "fill": {"signal": "datum.value==='smooth'?'#00ee00':datum.value==='clumps'?'#1a1aff':'transparent'"}, "stroke": {"signal": "datum.value==='sum'?'#ff0000':'transparent'"}, "strokeWidth": {"signal": "datum.value==='sum'?2:0"}, "opacity": {"value": 1}}}
        }}}
   }},
  {"data": {"values": [{}]}, "mark": {"type": "text", "align": "left", "baseline": "middle", "font": "Liberation Serif", "fontSize": 9, "fontWeight": "bold", "color": "black"},
   "encoding": {"x": {"datum": 0.0115, "type": "quantitative", "axis": null}, "y": {"datum": 3.1e24, "type": "quantitative", "scale": {"type": "log", "domain": [1e20, 1e25], "nice": false}, "axis": null}, "text": {"value": "Milder  Cusped"}}},
  {"data": {"values": [{}]}, "mark": {"type": "text", "align": "left", "baseline": "middle", "font": "Liberation Serif", "fontSize": 9, "color": "black"},
   "encoding": {"x": {"datum": 0.0115, "type": "quantitative", "axis": null}, "y": {"datum": 1.38e24, "type": "quantitative", "scale": {"type": "log", "domain": [1e20, 1e25], "nice": false}, "axis": null}, "text": {"value": "γ = 0.5"}}},
  {"data": {"values": [{}]}, "mark": {"type": "text", "align": "left", "baseline": "middle", "font": "Liberation Serif", "fontSize": 9, "color": "black"},
   "encoding": {"x": {"datum": 0.0115, "type": "quantitative", "axis": null}, "y": {"datum": 5.4e23, "type": "quantitative", "scale": {"type": "log", "domain": [1e20, 1e25], "nice": false}, "axis": null}, "text": {"value": "fδ = 20"}}}
 ]
},
{
 "width": 278, "height": 137,
 "data": {"name": "bk"},
 "resolve": {"axis": {"x": "independent", "y": "independent"}},
 "layer": [
  {"mark": {"type": "point", "shape": "square", "filled": true, "size": 5, "opacity": 1},
   "encoding": {
    "x": {"field": "b", "type": "quantitative", "scale": {"domain": [0, 0.018], "nice": false, "zero": false}, "axis": {"orient": "bottom", "values": [0,0.002,0.004,0.006,0.008,0.01,0.012,0.014,0.016,0.018], "tickSize": -5, "labels": true, "format": "~g", "labelPadding": 7, "title": "latitude b (rad)", "titlePadding": 0}},
    "y": {"field": "smooth", "type": "quantitative", "scale": {"type": "log", "domain": [1e20, 1e24], "nice": false}, "axis": {"orient": "left", "values": [1e20,2e20,3e20,4e20,5e20,6e20,7e20,8e20,9e20,1e21,2e21,3e21,4e21,5e21,6e21,7e21,8e21,9e21,1e22,2e22,3e22,4e22,5e22,6e22,7e22,8e22,9e22,1e23,2e23,3e23,4e23,5e23,6e23,7e23,8e23,9e23,1e24], "labelExpr": "abs(log(datum.value)/LN10-round(log(datum.value)/LN10))<0.01 ? '1e+'+round(log(datum.value)/LN10) : ''", "tickSize": {"condition": {"test": "abs(log(datum.value)/LN10-round(log(datum.value)/LN10))<0.01", "value": -5}, "value": -2.5}, "labelPadding": 10, "title": null}},
    "color": {"datum": "smooth", "type": "nominal", "scale": {"domain": ["smooth","clumps","sum"], "range": ["#00ee00","#1a1aff","#ff0000"]},
      "legend": {"orient": "bottom-left", "offset": 3, "title": null, "padding": 0, "rowPadding": -2.4, "labelFont": "Liberation Sans", "labelFontSize": 6.3, "labelAlign": "right", "symbolSize": 16,
        "encode": {
          "labels": {"update": {"x": {"value": 24}, "align": {"value": "right"}, "fill": {"signal": "datum.value==='smooth'?'#00dd00':datum.value==='clumps'?'#0000ff':'#ff0000'"}}},
          "symbols": {"update": {"x": {"signal": "datum.value==='sum'?37:28"}, "shape": {"signal": "datum.value==='sum'?'stroke':'square'"}, "size": {"signal": "datum.value==='sum'?324:datum.value==='clumps'?14:4"}, "fill": {"signal": "datum.value==='smooth'?'#00ee00':datum.value==='clumps'?'#1a1aff':'transparent'"}, "stroke": {"signal": "datum.value==='sum'?'#ff0000':'transparent'"}, "strokeWidth": {"signal": "datum.value==='sum'?2:0"}, "opacity": {"value": 1}}}
        }}}
   }},
  {"mark": {"type": "point", "shape": "square", "filled": true, "size": 20, "opacity": 0.75},
   "encoding": {
    "x": {"field": "b", "type": "quantitative", "scale": {"domain": [0, 0.018], "nice": false, "zero": false}, "axis": {"orient": "top", "values": [0,0.002,0.004,0.006,0.008,0.01,0.012,0.014,0.016,0.018], "tickSize": -5, "labels": false, "title": null}},
    "y": {"field": "clumps", "type": "quantitative", "scale": {"type": "log", "domain": [1e20, 1e24], "nice": false}, "axis": {"orient": "right", "values": [1e20,2e20,3e20,4e20,5e20,6e20,7e20,8e20,9e20,1e21,2e21,3e21,4e21,5e21,6e21,7e21,8e21,9e21,1e22,2e22,3e22,4e22,5e22,6e22,7e22,8e22,9e22,1e23,2e23,3e23,4e23,5e23,6e23,7e23,8e23,9e23,1e24], "labels": false, "tickSize": {"condition": {"test": "abs(log(datum.value)/LN10-round(log(datum.value)/LN10))<0.01", "value": -5}, "value": -2.5}, "title": null}},
    "color": {"datum": "clumps", "type": "nominal", "scale": {"domain": ["smooth","clumps","sum"], "range": ["#00ee00","#1a1aff","#ff0000"]},
      "legend": {"orient": "bottom-left", "offset": 3, "title": null, "padding": 0, "rowPadding": -2.4, "labelFont": "Liberation Sans", "labelFontSize": 6.3, "labelAlign": "right", "symbolSize": 16,
        "encode": {
          "labels": {"update": {"x": {"value": 24}, "align": {"value": "right"}, "fill": {"signal": "datum.value==='smooth'?'#00dd00':datum.value==='clumps'?'#0000ff':'#ff0000'"}}},
          "symbols": {"update": {"x": {"signal": "datum.value==='sum'?37:28"}, "shape": {"signal": "datum.value==='sum'?'stroke':'square'"}, "size": {"signal": "datum.value==='sum'?324:datum.value==='clumps'?14:4"}, "fill": {"signal": "datum.value==='smooth'?'#00ee00':datum.value==='clumps'?'#1a1aff':'transparent'"}, "stroke": {"signal": "datum.value==='sum'?'#ff0000':'transparent'"}, "strokeWidth": {"signal": "datum.value==='sum'?2:0"}, "opacity": {"value": 1}}}
        }}}
   }},
  {"mark": {"type": "line", "strokeWidth": 2, "invalid": "filter"},
   "encoding": {
    "x": {"field": "b", "type": "quantitative", "scale": {"domain": [0, 0.018], "nice": false, "zero": false}, "axis": null},
    "y": {"field": "sum", "type": "quantitative", "scale": {"type": "log", "domain": [1e20, 1e24], "nice": false}, "axis": null},
    "color": {"datum": "sum", "type": "nominal", "scale": {"domain": ["smooth","clumps","sum"], "range": ["#00ee00","#1a1aff","#ff0000"]},
      "legend": {"orient": "bottom-left", "offset": 3, "title": null, "padding": 0, "rowPadding": -2.4, "labelFont": "Liberation Sans", "labelFontSize": 6.3, "labelAlign": "right", "symbolSize": 16,
        "encode": {
          "labels": {"update": {"x": {"value": 24}, "align": {"value": "right"}, "fill": {"signal": "datum.value==='smooth'?'#00dd00':datum.value==='clumps'?'#0000ff':'#ff0000'"}}},
          "symbols": {"update": {"x": {"signal": "datum.value==='sum'?37:28"}, "shape": {"signal": "datum.value==='sum'?'stroke':'square'"}, "size": {"signal": "datum.value==='sum'?324:datum.value==='clumps'?14:4"}, "fill": {"signal": "datum.value==='smooth'?'#00ee00':datum.value==='clumps'?'#1a1aff':'transparent'"}, "stroke": {"signal": "datum.value==='sum'?'#ff0000':'transparent'"}, "strokeWidth": {"signal": "datum.value==='sum'?2:0"}, "opacity": {"value": 1}}}
        }}}
   }},
  {"data": {"values": [{}]}, "mark": {"type": "text", "align": "left", "baseline": "middle", "font": "Liberation Serif", "fontSize": 9, "fontWeight": "bold", "color": "black"},
   "encoding": {"x": {"datum": 0.0115, "type": "quantitative", "axis": null}, "y": {"datum": 4.1e23, "type": "quantitative", "scale": {"type": "log", "domain": [1e20, 1e24], "nice": false}, "axis": null}, "text": {"value": "Burkert  et  al."}}},
  {"data": {"values": [{}]}, "mark": {"type": "text", "align": "left", "baseline": "middle", "font": "Liberation Serif", "fontSize": 9, "color": "black"},
   "encoding": {"x": {"datum": 0.0115, "type": "quantitative", "axis": null}, "y": {"datum": 1.56e23, "type": "quantitative", "scale": {"type": "log", "domain": [1e20, 1e24], "nice": false}, "axis": null}, "text": {"value": "fδ = 20"}}}
 ]
}
]
}
